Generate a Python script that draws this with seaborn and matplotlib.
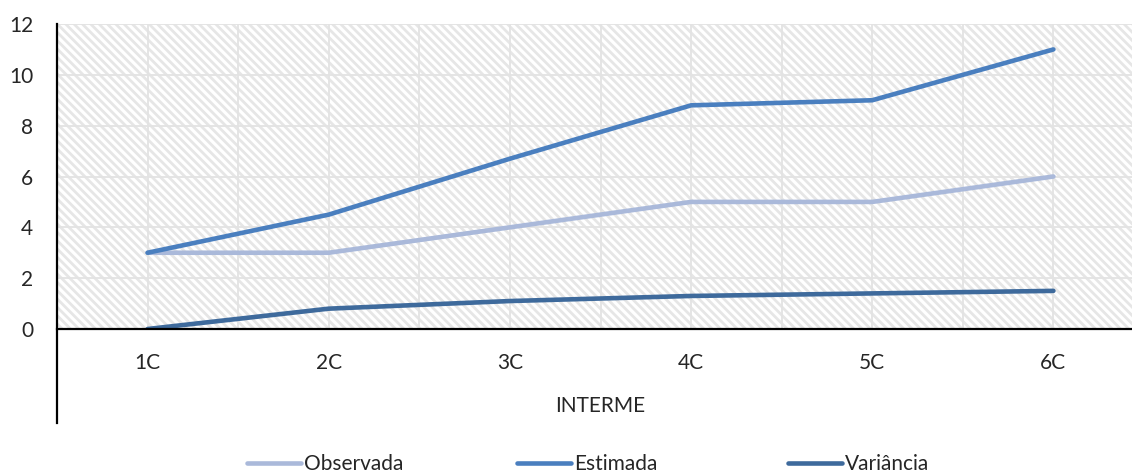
import matplotlib
matplotlib.use("Agg")
import matplotlib.pyplot as plt
import matplotlib.patches as mpatches
import seaborn as sns
import pandas as pd

categories = ["1C", "2C", "3C", "4C", "5C", "6C"]
observada = [3, 3, 4, 5, 5, 6]
estimada = [3, 4.5, 6.7, 8.8, 9, 11]
variancia = [0, 0.8, 1.1, 1.3, 1.4, 1.5]
series_names = ["Observada", "Estimada", "Variância"]
colors = ["#aab9da", "#4a7fbf", "#3e6a9c"]
x_title = "INTERME"
y_ticks = [0, 2, 4, 6, 8, 10, 12]

sns.set_style("white")
plt.rcParams["font.family"] = ["Lato", "DejaVu Sans"]
plt.rcParams["hatch.linewidth"] = 2.0
plt.rcParams["hatch.color"] = "#e6e6e6"

rows = []
for name, vals in zip(series_names, [observada, estimada, variancia]):
    for c, v in zip(categories, vals):
        rows.append({"cat": c, "valor": v, "serie": name})
df = pd.DataFrame(rows)

W, H = 1132, 473
fig = plt.figure(figsize=(W / 100, H / 100), dpi=100)
left, right, top, bottom = 57, 1144, 24, 329
ax = fig.add_axes([left / W, 1 - bottom / H, (right - left) / W, (bottom - top) / H])

# hatched plot-area background
bg = mpatches.Rectangle((0, 0), 1, 1, transform=ax.transAxes, facecolor="white",
                        edgecolor="#e6e6e6", hatch="\\\\\\\\", linewidth=0, zorder=0)
ax.add_patch(bg)

sns.lineplot(data=df, x="cat", y="valor", hue="serie", palette=colors,
             linewidth=3.3, ax=ax, legend=False, zorder=3,
             solid_capstyle="round", solid_joinstyle="round")

ax.set_xlim(-0.5, 5.5)
ax.set_ylim(0, 12)
ax.set_yticks(y_ticks)
ax.set_yticklabels([str(t) for t in y_ticks], fontsize=15)
ax.set_xticks(range(len(categories)))
ax.set_xticklabels(categories, fontsize=15)
ax.tick_params(axis="both", length=0)
ax.tick_params(axis="x", pad=17)
ax.tick_params(axis="y", pad=17)

# gridlines: horizontal every 2, vertical every half category
for t in y_ticks:
    ax.axhline(t, color="#e3e3e3", linewidth=1.3, zorder=1)
for k in range(13):
    ax.axvline(-0.5 + 0.5 * k, color="#e3e3e3", linewidth=1.3, zorder=1)

for s in ["top", "right"]:
    ax.spines[s].set_visible(False)
ax.spines["bottom"].set_color("black")
ax.spines["bottom"].set_linewidth(1.6)
ax.spines["left"].set_color("black")
ax.spines["left"].set_linewidth(1.6)
ax.spines["left"].set_bounds(-3.7, 12)
ax.spines["bottom"].set_zorder(4)

ax.set_xlabel("")
ax.set_ylabel("")
fig.text((left + right) / 2 / W, 1 - 406 / H, x_title, ha="center", va="center", fontsize=15)

# legend entries laid out at equal spacing under the plot
entry_x = [247, 517, 788]
for name, c, xp in zip(series_names, colors, entry_x):
    h = plt.Line2D([], [], color=c, linewidth=3.3, solid_capstyle="round")
    fig.legend([h], [name], loc="center left", bbox_to_anchor=(xp / W, 1 - 464 / H),
               frameon=False, fontsize=15, handlelength=2.6, handletextpad=0.15,
               borderpad=0, borderaxespad=0)

fig.savefig("out.png", dpi=100)
